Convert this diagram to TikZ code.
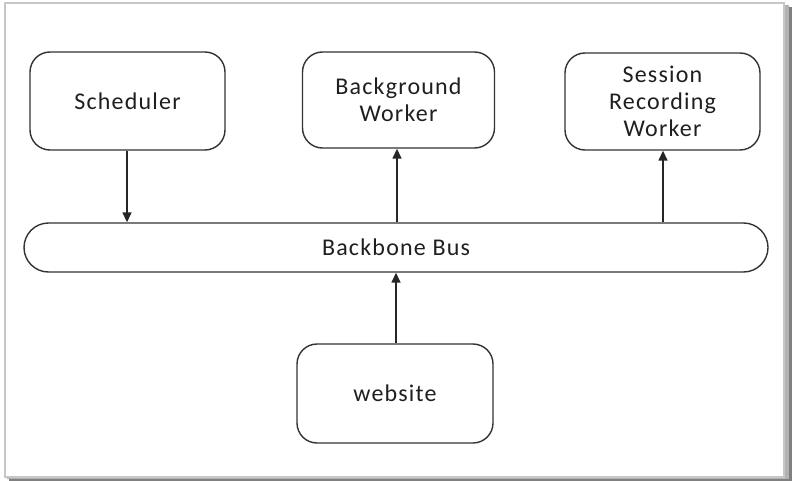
\documentclass[tikz,border=0pt]{standalone}
\usepackage{fontspec}
\setmainfont[LetterSpace=5]{Carlito}
\usetikzlibrary{arrows.meta,shapes.misc}
\begin{document}
\begin{tikzpicture}[x=1pt,y=-1pt,
  box/.style={draw=black!80, line width=1.4pt, fill=white, rounded corners=20pt,
    align=center, font=\fontsize{24}{27}\selectfont, text=black!88, inner sep=0pt},
  bus/.style={draw=black!80, line width=1.4pt, fill=white, rounded rectangle,
    font=\fontsize{24}{27}\selectfont, text=black!88, inner sep=0pt},
  conn/.style={draw=black!85, line width=1.5pt, -{Triangle[length=10pt,width=9pt]}}]
\useasboundingbox (0,0) rectangle (792,481);
% frame with shadow
\fill[black!50] (9,7) rectangle (792,481);
\fill[black!30] (7,5) rectangle (789,479);
\draw[draw=black!22, line width=1.5pt, fill=white] (5,3) rectangle (784,477);
% nodes
\node[box, minimum width=195pt, minimum height=98pt] (sch) at (127.5,101) {Scheduler};
\node[box, minimum width=192pt, minimum height=96pt] (bw) at (398.5,100) {Background\\Worker};
\node[box, minimum width=195pt, minimum height=97pt] (srw) at (662.5,101.5) {Session\\Recording\\Worker};
\node[bus, minimum width=744pt, minimum height=49pt] (bb) at (396,247.5) {Backbone Bus};
\node[box, minimum width=196pt, minimum height=99pt] (web) at (395,393.5) {website};
% connectors
\coordinate (xs) at (127,0);
\coordinate (xb) at (397,0);
\coordinate (xr) at (663,0);
\coordinate (xw) at (396,0);
\draw[conn] (xs |- sch.south) -- (xs |- bb.north);
\draw[conn] (xb |- bb.north) -- (xb |- bw.south);
\draw[conn] (xr |- bb.north) -- (xr |- srw.south);
\draw[conn] (xw |- web.north) -- (xw |- bb.south);
\end{tikzpicture}
\end{document}
